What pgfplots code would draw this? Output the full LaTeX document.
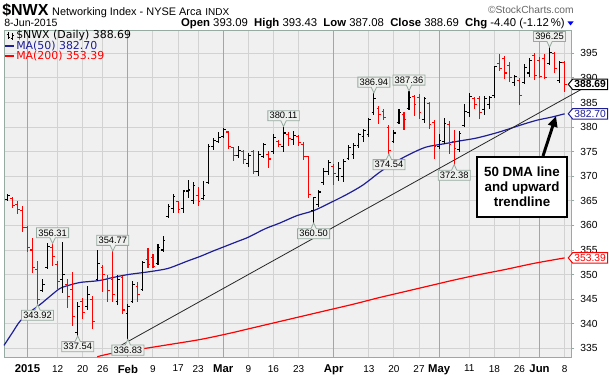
\documentclass[border=0pt]{standalone}
\usepackage{fontspec}
\setmainfont{Liberation Sans}
\newfontfamily\dejavu{DejaVu Sans}
\usepackage{pgfplots}
\usepackage{pgfplotstable}
\pgfplotsset{compat=1.18}
\usetikzlibrary{shapes.callouts,shapes.symbols,arrows.meta}

\definecolor{bgc}{RGB}{240,240,240}
\definecolor{gridc}{RGB}{210,210,210}
\definecolor{mgridc}{RGB}{165,165,165}
\definecolor{framec}{RGB}{150,172,162}
\definecolor{ma50}{RGB}{30,30,150}
\definecolor{ma200}{RGB}{255,0,0}
\definecolor{barred}{RGB}{255,0,0}
\definecolor{callbg}{RGB}{238,240,238}
\definecolor{callfr}{RGB}{150,170,160}

\pgfdeclareplotmark{otick}{\pgfpathmoveto{\pgfqpoint{-\pgfplotmarksize}{0pt}}\pgfpathlineto{\pgfqpoint{0pt}{0pt}}\pgfusepathqstroke}
\pgfdeclareplotmark{ctick}{\pgfpathmoveto{\pgfqpoint{0pt}{0pt}}\pgfpathlineto{\pgfqpoint{\pgfplotmarksize}{0pt}}\pgfusepathqstroke}

\pgfplotstableread{
i o h l c
-4 365.2 366.4 364.9 366.0
3 346.8 349.2 346.5 348.0
4 351.5 356.5 351.1 355.8
7 349.0 356.6 346.2 350.0
10 338.2 344.4 337.54 343.6
12 343.5 347.6 342.8 346.0
14 349.0 355.0 348.6 352.3
18 344.5 350.0 343.8 349.0
20 342.0 344.0 336.83 343.5
21 344.5 348.7 344.3 348.0
23 347.0 352.8 346.6 352.5
26 352.3 356.2 352.0 355.5
27 355.0 357.8 354.5 357.0
28 361.8 364.3 361.6 363.8
29 363.5 366.3 362.6 365.8
31 363.5 367.3 362.6 367.0
32 367.0 369.2 365.6 367.2
33 365.0 368.8 364.3 368.2
35 365.5 369.0 365.1 366.0
36 368.8 376.5 368.5 376.0
37 376.0 377.8 375.3 377.3
38 377.0 379.0 376.8 377.8
39 378.0 379.9 377.8 379.6
42 374.2 376.2 373.8 375.3
44 372.5 374.8 371.8 374.3
46 371.0 375.1 370.0 374.5
47 374.0 376.8 373.8 376.5
49 375.0 378.6 374.5 377.8
51 376.0 380.11 375.0 378.8
53 377.5 379.1 376.3 378.3
57 363.0 365.8 360.50 365.6
58 364.2 367.2 363.8 366.8
59 368.8 371.6 368.3 371.0
60 371.0 373.4 370.2 372.8
62 370.0 372.8 369.0 371.5
63 370.0 373.6 368.8 373.0
64 373.6 376.3 373.3 375.8
65 374.5 376.8 373.6 376.3
66 376.3 378.8 375.8 378.5
67 378.0 379.6 377.0 379.3
68 378.5 381.9 378.0 381.5
69 383.0 386.94 382.4 385.8
73 377.0 379.4 376.8 378.8
74 381.0 383.6 380.6 383.0
76 383.8 387.36 383.4 386.0
79 381.5 386.2 380.8 385.8
82 376.0 378.6 375.6 377.2
83 377.0 381.9 376.6 380.8
86 375.5 379.3 374.9 378.6
87 380.3 384.7 380.0 383.2
88 383.0 387.0 382.0 386.2
91 383.5 386.4 382.4 385.8
92 384.5 386.4 383.7 386.0
93 386.5 392.5 386.0 392.3
97 389.0 390.6 388.4 390.3
99 389.0 392.9 388.8 392.2
100 391.0 394.0 390.2 393.5
104 393.0 396.25 392.6 395.2
106 389.5 393.5 388.9 393.09
}\blackbars

\pgfplotstableread{
i o h l c
-3 365.4 365.7 363.6 364.0
-2 364.2 365.0 362.3 363.2
-1 363.0 364.0 358.6 359.6
0 359.5 359.9 354.5 355.5
1 355.0 357.5 350.3 351.5
2 351.0 352.8 343.92 345.0
5 355.5 356.31 351.8 353.6
6 352.0 352.8 347.0 348.5
8 348.0 349.1 343.3 345.6
9 347.0 350.5 339.6 341.5
11 344.6 345.3 341.0 342.2
13 345.0 345.6 339.0 340.5
15 351.5 352.0 346.5 350.0
16 349.0 350.0 344.5 346.8
17 349.0 354.77 344.5 346.0
19 349.5 349.8 342.0 342.8
22 347.5 348.5 344.5 346.0
24 353.0 355.5 351.3 352.0
25 353.5 354.2 351.3 351.6
30 364.8 365.0 362.6 363.2
34 366.0 367.8 363.9 364.8
40 379.0 379.2 375.6 376.0
41 375.8 376.0 373.2 374.2
43 375.0 375.3 372.4 373.4
45 375.0 375.3 370.4 371.0
48 374.5 375.2 371.7 373.5
50 377.0 377.3 375.9 376.5
52 378.5 378.9 376.2 377.6
54 378.0 378.4 376.2 376.8
55 376.5 377.0 373.4 374.0
56 374.0 374.0 365.5 366.2
61 372.0 372.4 368.2 370.5
70 383.8 384.2 380.6 382.6
71 383.2 383.6 381.5 382.0
72 380.0 380.4 374.54 375.3
75 382.5 383.0 379.5 381.5
77 386.2 386.5 382.2 384.5
78 386.0 386.8 381.6 383.0
80 384.8 385.0 379.6 380.5
81 381.0 381.5 373.6 376.0
84 380.5 381.2 374.5 376.5
85 377.0 379.4 372.38 375.6
89 385.8 386.1 383.7 384.6
90 385.9 386.4 381.7 383.0
94 393.0 394.9 391.5 392.0
95 394.0 394.5 389.8 391.0
96 392.5 393.2 389.1 390.0
98 389.5 389.9 384.4 386.5
101 394.5 395.0 389.6 390.5
102 393.5 394.3 389.9 390.2
103 394.0 394.9 389.8 390.0
105 395.0 395.3 390.9 392.0
107 393.09 393.43 387.08 388.69
}\redbars

\tikzset{callb/.style={rectangle callout, draw=callfr, fill=callbg, line width=0.6pt,
  inner xsep=1.3pt, inner ysep=1.3pt, font=\fontsize{7}{8}\selectfont, callout pointer width=4pt}}

\begin{document}
\begin{tikzpicture}
\begin{axis}[
  at={(0,0)}, anchor=south west,
  scale only axis, width=425.25pt, height=245.25pt,
  xmin=-4.68, xmax=108.27, ymin=333.24, ymax=399.74,
  clip=false,
  axis background/.style={fill=bgc},
  axis line style={draw=framec, line width=0.75pt},
  /pgf/number format/assume math mode=true,
  ytick={335,340,...,395},
  ytick pos=right, yticklabel pos=right,
  tick align=outside, major tick length=2.5pt,
  ytick style={draw=framec, line width=0.6pt},
  yticklabel style={font=\fontsize{7.7}{9}\selectfont, xshift=1pt},
  xtick={6,11,15,25,30,34,44,49,54,68,73,78,88,93,98,107},
  xticklabels={12,20,26,9,17,23,9,16,23,13,20,27,11,18,26,8},
  xtick style={draw=none},
  xticklabel style={font=\fontsize{7.5}{9}\selectfont},
  extra x ticks={0,20,39,61,82,102},
  extra x tick labels={2015,Feb,Mar,Apr,May,Jun},
  extra x tick style={grid=major, major grid style={mgridc, line width=0.75pt},
     xticklabel style={font=\bfseries\fontsize{8.5}{10}\selectfont}},
  grid=major, major grid style={gridc, line width=0.75pt},
]
% moving averages
\addplot[ma200, line width=0.9pt, smooth] coordinates {
(13.9,333.3) (16.4,333.9) (21,334.6) (27.8,335.7) (34.4,336.8) (40,338.0) (45,339.2)
(50,340.4) (55,341.6) (60,342.8) (65,344.0) (70,345.3) (75,346.5) (80,347.7)
(85,348.9) (90,350.0) (95,351.0) (101,352.3) (107,353.39)};
\addplot[ma50, line width=0.9pt, smooth] coordinates {
(-4.68,335.6) (-3,338.2) (-1.5,340.5) (0.5,342.4) (2.5,343.9) (4.5,345.6) (6.5,347.2)
(8.5,347.9) (10.5,348.4) (12.5,348.6) (14.4,348.8) (17,349.4) (20,350.0) (24.4,350.6)
(27.8,351.2) (30,352.0) (32,352.8) (34.4,353.7) (37,354.8) (39,355.6) (42,356.8)
(44,357.6) (47.3,359.3) (50.3,360.5) (53.7,362.0) (57,363.0) (60.3,364.6) (63.6,366.3)
(66.8,368.2) (70,370.7) (72.6,372.5) (75.8,374.3) (79.3,375.9) (83,376.6) (86.2,377.2)
(89.6,377.8) (94,379.0) (97.9,380.3) (101.5,381.4) (104.3,382.0) (107,382.70)};
% trendline
\addplot[black!85, line width=0.6pt] coordinates {(18.03,335.27) (110.46,387.74)};
% OHLC bars
\addplot[black, only marks, mark=otick, mark size=1.7pt, mark options={line width=0.8pt},
  error bars/.cd, y dir=both, y explicit, error mark=none,
  error bar style={line width=0.8pt, black}]
  table[x=i, y=o, y error plus expr=\thisrow{h}-\thisrow{o}, y error minus expr=\thisrow{o}-\thisrow{l}] {\blackbars};
\addplot[black, only marks, mark=ctick, mark size=1.7pt, mark options={line width=0.8pt}]
  table[x=i, y=c] {\blackbars};
\addplot[barred, only marks, mark=otick, mark size=1.7pt, mark options={line width=0.8pt},
  error bars/.cd, y dir=both, y explicit, error mark=none,
  error bar style={line width=0.8pt, barred}]
  table[x=i, y=o, y error plus expr=\thisrow{h}-\thisrow{o}, y error minus expr=\thisrow{o}-\thisrow{l}] {\redbars};
\addplot[barred, only marks, mark=ctick, mark size=1.7pt, mark options={line width=0.8pt}]
  table[x=i, y=c] {\redbars};
% callouts
\node[callb, above=4pt, callout absolute pointer={(axis cs:5,356.31)}] at (axis cs:5,356.31) {356.31};
\node[callb, above=4pt, callout absolute pointer={(axis cs:17,354.77)}] at (axis cs:17,354.77) {354.77};
\node[callb, above=4pt, callout absolute pointer={(axis cs:51,380.11)}] at (axis cs:51,380.11) {380.11};
\node[callb, above=4pt, callout absolute pointer={(axis cs:69,386.94)}] at (axis cs:69,386.94) {386.94};
\node[callb, above=4pt, callout absolute pointer={(axis cs:76,387.36)}] at (axis cs:76,387.36) {387.36};
\node[callb, above=4pt, callout absolute pointer={(axis cs:104,396.25)}] at (axis cs:104,396.25) {396.25};
\node[callb, below=4pt, callout absolute pointer={(axis cs:2,343.92)}] at (axis cs:2,343.92) {343.92};
\node[callb, below=4pt, callout absolute pointer={(axis cs:10,337.54)}] at (axis cs:10,337.54) {337.54};
\node[callb, below=4pt, callout absolute pointer={(axis cs:20,336.83)}] at (axis cs:20,336.83) {336.83};
\node[callb, below=4pt, callout absolute pointer={(axis cs:57,360.50)}] at (axis cs:57,360.50) {360.50};
\node[callb, below=4pt, callout absolute pointer={(axis cs:72,374.54)}] at (axis cs:72,374.54) {374.54};
\node[callb, below=4pt, callout absolute pointer={(axis cs:85,372.38)}] at (axis cs:85,372.38) {372.38};
% right tags
\node[signal, signal to=west, signal pointer angle=100, draw=black, fill=white, line width=0.75pt,
  inner xsep=1.3pt, inner ysep=1.2pt, anchor=west, font=\bfseries\fontsize{7.7}{9}\selectfont]
  at (axis cs:107.6,388.69) {388.69};
\node[signal, signal to=west, signal pointer angle=100, draw=ma50, fill=white, line width=0.75pt,
  text=ma50, inner xsep=1.3pt, inner ysep=1.2pt, anchor=west, font=\fontsize{7.7}{9}\selectfont]
  at (axis cs:107.6,382.70) {382.70};
\node[signal, signal to=west, signal pointer angle=100, draw=ma200, fill=white, line width=0.75pt,
  text=ma200, inner xsep=1.3pt, inner ysep=1.2pt, anchor=west, font=\fontsize{7.7}{9}\selectfont]
  at (axis cs:107.6,353.39) {353.39};
\end{axis}

\begin{scope}[x=0.75pt, y=-0.75pt, shift={(-3pt,267.75pt)}]
 % header
 \node[anchor=base west, inner sep=0] at (2,15.5) {{\fontsize{12}{14}\selectfont\bfseries \$NWX} {\fontsize{8.2}{10}\selectfont Networking Index - NYSE Arca} {\fontsize{7.5}{9}\selectfont INDX}};
 \node[anchor=base east, inner sep=0, text=black!60] at (574,14) {\fontsize{7.7}{9}\selectfont ©StockCharts.com};
 \node[anchor=base west, inner sep=0] at (4,26.5) {\fontsize{7.9}{9}\selectfont 8-Jun-2015};
 \node[anchor=base east, inner sep=0] at (565,26.5) {\fontsize{8.5}{10}\selectfont \textbf{Open} 393.09 \textbf{ High} 393.43 \textbf{ Low} 387.08 \textbf{ Close} 388.69 \textbf{ Chg} -4.40 (-1.12\,\%)};
 \fill[blue] (567.5,21.5) -- (573.5,21.5) -- (570.5,25.5) -- cycle;
 % legend
 \draw[black, line width=0.6pt] (8,32)--(8,39) (6.5,34)--(8,34) (8,37)--(9.5,37) (12,33)--(12,40) (10.5,38)--(12,38) (12,35)--(13.5,35);
 \node[anchor=base west, inner sep=0] at (16,39) {\dejavu\fontsize{8.2}{9}\selectfont \$NWX (Daily) 388.69};
 \draw[ma50, line width=1.5pt] (5,46)--(14,46);
 \node[anchor=base west, inner sep=0, text=ma50] at (16,49.5) {\dejavu\fontsize{8.2}{9}\selectfont MA(50) 382.70};
 \draw[ma200, line width=1.5pt] (5,56.5)--(14,56.5);
 \node[anchor=base west, inner sep=0, text=ma200] at (16,60) {\dejavu\fontsize{8.2}{9}\selectfont MA(200) 353.39};
 % annotation
 \node[draw=black, line width=1.5pt, fill=white, align=center, minimum width=67pt, minimum height=45pt,
   inner sep=1pt, font=\bfseries\fontsize{10}{11.3}\selectfont] at (522,187) {50 DMA line\\and upward\\trendline};
 \draw[line width=2.2pt, -{Triangle[length=8pt, width=7pt]}] (543,156) -- (556,116);
\end{scope}

\pgfresetboundingbox
\path[use as bounding box] (-3pt,-12.75pt) rectangle (453.75pt,267.75pt);
\end{tikzpicture}
\end{document}
